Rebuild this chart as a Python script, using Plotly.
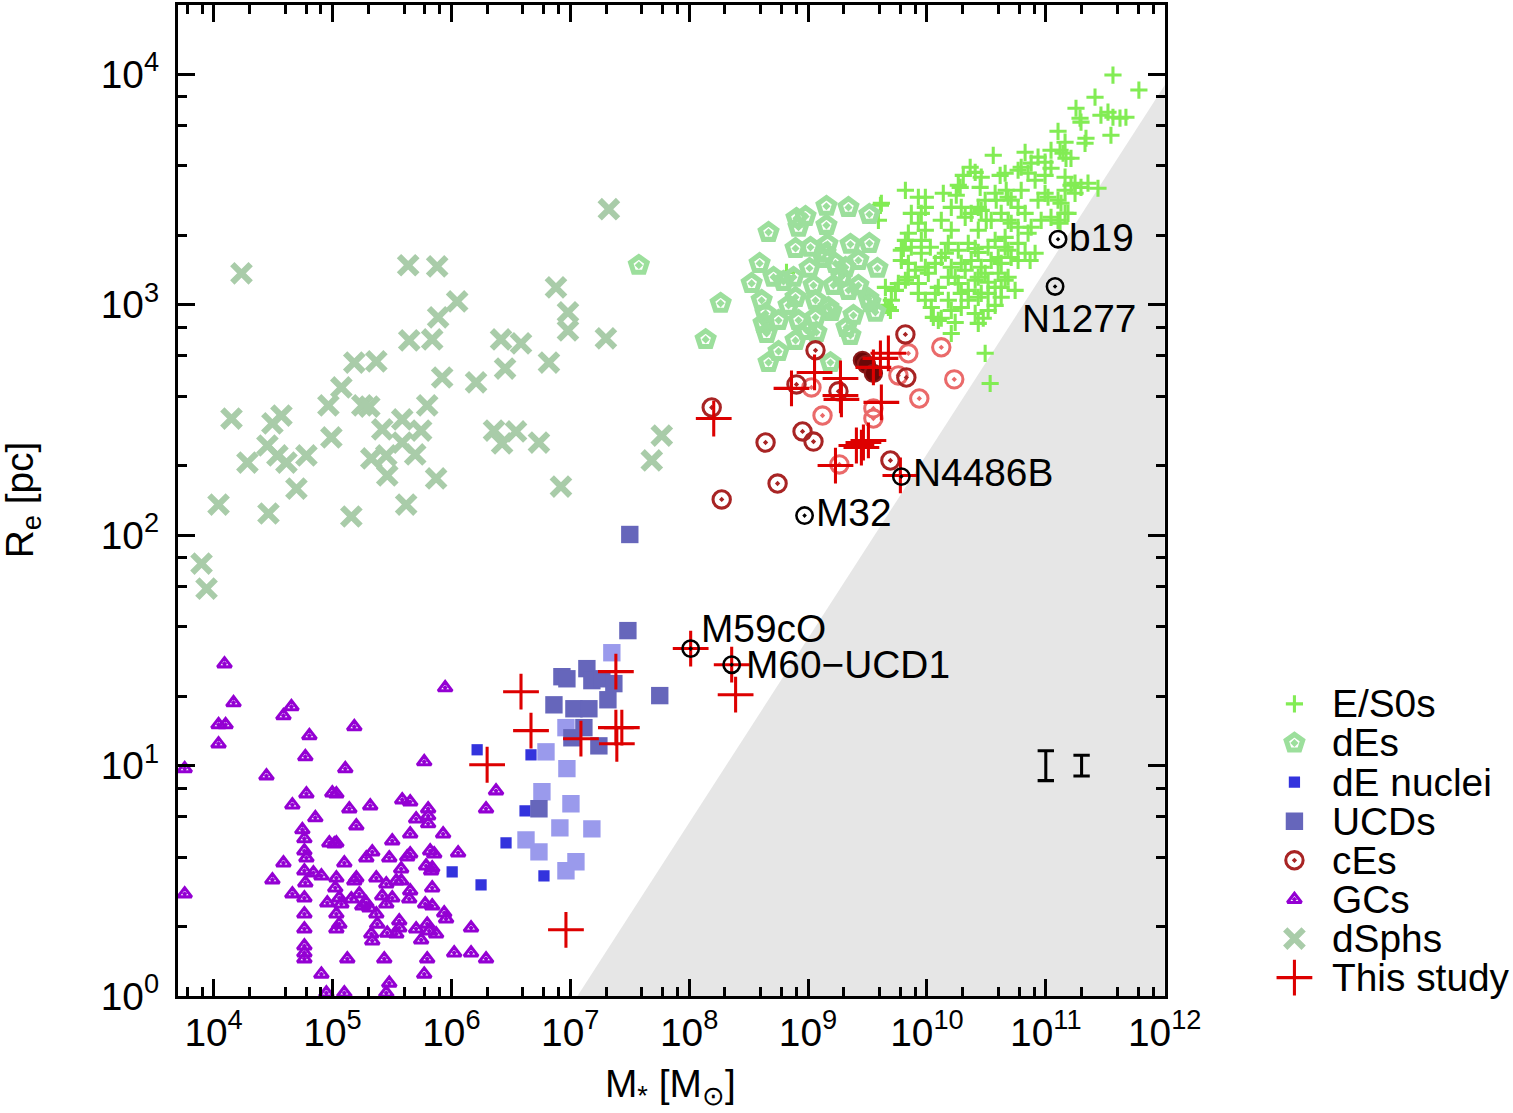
import math
import numpy as np
import plotly.graph_objects as go

# ---------------- data: (log10 M*/Msun, log10 Re/pc) ----------------
es0 = [
    (11.565, 3.996), (11.783, 3.931), (11.414, 3.900), (11.254, 3.852), (11.288, 3.809), (11.296, 3.792),
    (11.464, 3.822), (11.523, 3.835), (11.565, 3.813), (11.624, 3.809), (11.674, 3.813), (11.548, 3.735),
    (11.103, 3.752), (11.162, 3.705), (11.330, 3.700), (11.338, 3.722), (11.120, 3.670), (11.170, 3.635),
    (11.212, 3.635), (11.145, 3.657),
    (10.558, 3.648), (10.826, 3.661), (10.935, 3.640), (11.044, 3.670), (10.994, 3.618), (11.439, 3.505),
    (11.212, 3.518), (11.246, 3.483),
    (10.793, 3.596), (10.851, 3.570), (10.910, 3.540), (10.994, 3.561), (11.044, 3.592), (10.658, 3.570),
    (10.767, 3.583), (10.877, 3.614), (11.162, 3.553), (11.246, 3.527), (11.296, 3.509), (11.355, 3.527),
    (10.364, 3.596), (10.406, 3.574), (10.457, 3.553), (10.306, 3.561), (10.264, 3.518), (10.138, 3.483),
    (10.616, 3.561), (10.667, 3.496), (10.709, 3.453), (10.583, 3.453),
    (11.103, 3.453), (11.162, 3.496), (11.162, 3.396), (11.103, 3.366), (10.767, 3.422), (10.826, 3.396),
    (10.935, 3.453), (10.994, 3.483), (10.574, 3.483), (10.683, 3.466), (10.793, 3.496), (11.019, 3.466),
    (11.128, 3.440), (11.187, 3.396), (11.120, 3.353), (11.044, 3.379),
    (10.683, 3.366), (10.767, 3.336), (10.851, 3.310), (10.658, 3.292), (10.448, 3.509), (10.490, 3.453),
    (10.432, 3.422), (10.280, 3.509), (10.247, 3.475), (10.205, 3.422), (9.987, 3.466), (9.819, 3.496),
    (9.928, 3.466), (9.987, 3.422), (9.869, 3.396), (9.617, 3.440), (9.953, 3.396),
    (9.592, 3.366), (9.928, 3.353), (9.987, 3.323), (10.121, 3.366), (10.205, 3.323), (10.322, 3.379),
    (10.373, 3.396), (10.432, 3.323), (10.499, 3.366), (10.289, 3.422), (10.457, 3.409), (10.541, 3.366),
    (10.625, 3.396), (10.709, 3.353), (10.877, 3.336), (10.961, 3.366),
    (9.819, 3.279), (9.802, 3.244), (9.869, 3.249), (9.953, 3.223), (10.029, 3.249), (10.180, 3.266),
    (10.264, 3.236), (10.348, 3.266), (10.406, 3.244), (10.515, 3.249), (10.574, 3.279), (10.658, 3.249),
    (10.767, 3.266), (10.826, 3.223), (10.910, 3.223), (10.868, 3.192), (9.844, 3.310), (9.953, 3.279),
    (10.155, 3.223), (10.432, 3.227), (10.600, 3.205), (10.683, 3.236), (10.767, 3.192),
    (9.844, 3.179), (9.903, 3.149), (9.987, 3.162), (10.071, 3.179), (10.121, 3.205), (10.205, 3.162),
    (10.289, 3.179), (10.373, 3.192), (10.457, 3.162), (10.541, 3.192), (10.625, 3.179), (10.709, 3.205),
    (9.785, 3.192), (10.012, 3.136), (10.238, 3.119), (10.322, 3.149), (10.406, 3.106), (10.490, 3.136),
    (10.574, 3.075), (10.658, 3.106), (10.742, 3.062),
    (9.844, 3.119), (9.928, 3.092), (10.096, 3.075), (10.180, 3.119), (10.264, 3.092), (10.348, 3.062),
    (10.432, 3.119), (10.515, 3.097), (10.600, 3.136), (10.683, 3.119), (9.651, 3.075), (9.760, 3.092),
    (9.701, 3.019), (9.676, 2.988), (9.819, 3.106), (10.071, 3.049), (10.289, 3.049), (10.457, 3.049),
    (10.625, 3.032),
    (9.928, 3.049), (9.987, 3.019), (10.180, 3.019), (10.348, 3.019), (10.432, 3.032), (10.515, 3.049),
    (10.625, 3.075), (10.205, 2.975), (10.289, 2.988), (10.406, 2.962), (10.515, 2.975), (10.574, 2.997),
    (10.037, 2.988), (10.054, 2.945), (10.096, 2.932),
    (10.205, 2.875), (10.490, 2.789), (10.532, 2.658), (10.432, 2.919), (10.474, 2.941), (10.121, 2.941),
    (10.238, 2.923),
    (9.785, 3.236), (9.609, 3.431), (9.735, 3.062), (9.651, 2.997), (9.693, 2.975), (8.819, 3.140),
]

des = [
    (9.155, 3.427), (9.340, 3.422), (9.516, 3.392), (8.903, 3.375), (8.979, 3.383), (8.920, 3.336),
    (9.155, 3.344), (8.668, 3.314), (8.895, 3.244), (9.021, 3.249), (9.164, 3.262), (9.357, 3.262),
    (9.516, 3.266), (8.593, 3.179), (9.584, 3.158), (8.526, 3.092), (8.710, 3.119), (8.794, 3.101),
    (8.878, 3.119), (8.265, 3.006), (8.139, 2.849), (8.668, 2.749), (8.752, 2.797), (9.525, 3.010),
    (9.567, 2.967), (9.323, 2.901), (9.357, 2.867), (9.197, 2.971), (8.895, 3.032), (9.063, 3.019),
    (9.172, 2.988), (9.340, 3.062), (9.508, 3.027), (8.610, 3.019), (8.643, 2.962), (8.626, 2.919),
    (8.652, 2.875), (8.752, 2.932), (8.920, 2.932), (8.987, 2.888), (8.895, 2.845), (9.063, 2.945),
    (9.071, 2.880), (9.130, 3.201), (9.231, 3.179), (9.315, 3.162), (9.424, 3.192), (9.281, 3.119),
    (9.424, 3.084), (9.189, 2.749), (7.577, 3.171), (9.147, 3.223), (9.046, 3.084), (9.214, 3.084),
    (8.836, 2.997), (9.382, 2.954), (9.013, 3.158),
]

de_nuclei = [
    (6.217, 1.069), (6.670, 1.047), (6.620, 0.804), (6.460, 0.665), (6.779, 0.522), (6.007, 0.539),
    (6.250, 0.483),
]

ucds = [
    (7.501, 2.003), (7.485, 1.586), (7.753, 1.304), (6.930, 1.386), (6.972, 1.377), (7.140, 1.421),
    (7.182, 1.369), (7.266, 1.377), (7.367, 1.356), (7.317, 1.286), (6.863, 1.264), (7.031, 1.247),
    (7.157, 1.247), (7.115, 1.165), (7.014, 1.121), (7.241, 1.086), (6.737, 0.813),
]

ucds_light = [
    (7.350, 1.490), (6.964, 1.165), (6.796, 1.060), (6.972, 0.987), (6.762, 0.887), (7.006, 0.835),
    (6.913, 0.730), (7.182, 0.726), (6.628, 0.678), (6.737, 0.626), (7.048, 0.583), (6.964, 0.544),
]

ces = [
    (8.190, 2.554), (9.063, 2.802), (8.903, 2.654), (9.256, 2.624), (9.819, 2.871), (9.827, 2.684),
    (8.954, 2.450), (9.046, 2.406), (8.643, 2.402), (9.693, 2.324), (8.744, 2.224), (8.274, 2.155),
]
ces_light = [
    (10.121, 2.815), (10.230, 2.676), (9.844, 2.789), (9.760, 2.693), (9.936, 2.593), (9.550, 2.550),
    (9.550, 2.506), (9.122, 2.519), (9.029, 2.641), (9.264, 2.307),
]
ces_core = [(9.458, 2.758), (9.491, 2.741), (9.550, 2.702)]

gcs = [
    (4.092, 1.442), (4.168, 1.273), (4.042, 1.178), (4.101, 1.178), (4.042, 1.095), (3.757, 0.987),
    (3.757, 0.444), (4.655, 1.256), (4.588, 1.217), (4.806, 1.130), (4.772, 1.039), (4.445, 0.956),
    (5.184, 1.169), (5.108, 0.987), (5.772, 1.017), (5.948, 1.338), (6.376, 0.891), (6.292, 0.813),
    (4.781, 0.878), (4.663, 0.830), (4.999, 0.882), (5.033, 0.878), (4.856, 0.774), (5.142, 0.813),
    (5.318, 0.826), (5.201, 0.739), (5.587, 0.852), (5.654, 0.843), (5.805, 0.813), (5.805, 0.782),
    (5.805, 0.748), (5.704, 0.769), (5.654, 0.704), (5.931, 0.704), (6.057, 0.622), (4.747, 0.722),
    (4.764, 0.683), (4.764, 0.630), (4.781, 0.600), (4.974, 0.665), (5.033, 0.665), (5.016, 0.661),
    (4.588, 0.578), (4.495, 0.505), (4.764, 0.544), (4.840, 0.535), (4.907, 0.522), (4.772, 0.492),
    (4.663, 0.444), (4.764, 0.426), (4.764, 0.357), (4.764, 0.292), (4.764, 0.218), (4.764, 0.188),
    (4.764, 0.162), (5.100, 0.578), (5.285, 0.600), (5.335, 0.626), (5.503, 0.674), (5.478, 0.600),
    (5.654, 0.617), (5.629, 0.604), (5.822, 0.630), (5.856, 0.617), (5.578, 0.552), (5.788, 0.565),
    (5.839, 0.557), (5.830, 0.544), (5.033, 0.513), (5.024, 0.470), (5.058, 0.426), (5.075, 0.400),
    (5.201, 0.513), (5.184, 0.500), (5.226, 0.444), (5.159, 0.422), (5.369, 0.513), (5.453, 0.487),
    (5.537, 0.500), (5.579, 0.500), (5.839, 0.470), (4.957, 0.405), (5.285, 0.405), (5.310, 0.383),
    (5.251, 0.392), (5.419, 0.435), (5.453, 0.400), (5.503, 0.426), (5.654, 0.457), (5.646, 0.422),
    (5.780, 0.400), (5.839, 0.392), (5.940, 0.361), (5.956, 0.335), (5.033, 0.357), (5.058, 0.313),
    (5.033, 0.292), (5.369, 0.357), (5.377, 0.313), (5.327, 0.270), (5.335, 0.240), (5.461, 0.274),
    (5.537, 0.270), (5.562, 0.327), (5.562, 0.296), (5.704, 0.292), (5.797, 0.313), (5.814, 0.283),
    (5.872, 0.270), (5.746, 0.244), (6.166, 0.296), (6.024, 0.188), (6.166, 0.188), (6.292, 0.162),
    (5.125, 0.162), (5.436, 0.162), (5.797, 0.162), (4.907, 0.096), (5.478, 0.057), (5.772, 0.096),
    (4.949, 0.014), (5.100, 0.014), (5.453, 0.014),
]

dsphs = [
    (4.235, 3.136), (5.637, 3.171), (5.881, 3.166), (7.325, 3.414), (6.880, 3.075), (6.049, 3.014),
    (5.889, 2.945), (6.981, 2.967), (6.981, 2.888), (5.646, 2.845), (5.839, 2.849), (6.418, 2.849),
    (6.586, 2.832), (7.300, 2.854), (5.184, 2.749), (5.369, 2.754), (6.821, 2.749), (5.923, 2.684),
    (6.208, 2.663), (6.452, 2.723), (5.075, 2.641), (4.966, 2.563), (5.251, 2.563), (5.310, 2.558),
    (5.797, 2.563), (4.151, 2.506), (4.495, 2.485), (4.571, 2.519), (5.419, 2.459), (5.587, 2.502),
    (5.746, 2.454), (4.991, 2.424), (6.359, 2.454), (6.544, 2.450), (6.427, 2.398), (6.737, 2.402),
    (7.770, 2.432), (7.686, 2.324), (4.453, 2.389), (4.285, 2.315), (4.537, 2.346), (4.613, 2.315),
    (4.781, 2.346), (5.327, 2.333), (5.453, 2.346), (5.587, 2.402), (5.696, 2.350), (5.461, 2.259),
    (5.872, 2.246), (4.697, 2.202), (4.042, 2.133), (4.462, 2.094), (5.159, 2.081), (5.620, 2.133),
    (6.922, 2.211), (3.899, 1.877), (3.941, 1.768),
]

this_study = [
    (6.301, 1.004), (6.586, 1.321), (6.670, 1.152), (7.090, 1.117), (7.384, 1.408), (7.384, 1.165),
    (7.434, 1.165), (7.392, 1.095), (6.964, 0.288), (8.013, 1.508), (8.358, 1.438), (8.391, 1.308),
    (8.207, 2.506), (8.861, 2.637), (9.055, 2.706), (9.273, 2.680), (9.273, 2.606), (9.281, 2.589),
    (9.550, 2.728), (9.676, 2.789), (9.609, 2.767), (9.617, 2.576), (9.466, 2.402), (9.508, 2.411),
    (9.449, 2.380), (9.407, 2.389), (9.231, 2.302), (9.777, 2.259),
]

named_names = ["b19", "N1277", "N4486B", "M32", "M59cO", "M60\u2212UCD1"]
named_logm = [11.103, 11.078, 9.785, 8.971, 8.013, 8.358]
named_logre = [3.284, 3.079, 2.254, 2.085, 1.508, 1.438]

# typical uncertainties (shown at Re = 10 pc)
err_mass = [1e11, 2e11]
err_re = [10.0, 10.0]
err_dex = [0.065, 0.045]

# forbidden zone boundary: log Re = slope * (log M - logm0)
zone_slope = 0.8
zone_logm0 = 7.06

x_ticks = [10.0 ** k for k in range(4, 13)]
x_ticktext = ["10<sup>%d</sup>" % k for k in range(4, 13)]
y_ticks = [10.0 ** k for k in range(0, 5)]
y_ticktext = ["10<sup>%d</sup>" % k for k in range(0, 5)]
x_minor = [m * 10.0 ** k for k in range(3, 12) for m in (2, 4, 6, 8)]
y_minor = [m * 10.0 ** k for k in range(0, 5) for m in (2, 4, 6, 8)]

# ---------------- styles ----------------
REF_W, REF_H = 1513, 1113          # layout designed in these pixel units
K = 1547 / 1513                    # rendering compensation factor
W, H = round(REF_W * K), round(REF_H * K)


def px(v):
    return v * K


FONT = "Liberation Sans, Arial, Helvetica, sans-serif"
C_ES0 = "#82ec54"
C_DE = "#9cdf9c"
C_NUC = "#3333dd"
C_UCD = "#6666bb"
C_UCD_L = "#9a9aec"
C_CE = "#a82424"
C_CE_L = "#ea6a6a"
C_CE_CORE = "#6a0808"
C_GC = "#9400d3"
C_DSPH = "#a9cca9"
C_THIS = "#dd0000"

STY = {
    "es0": ("cross-thin-open", 12, C_ES0, 3),
    "des": ("pentagon-open-dot", 17, C_DE, 5),
    "nuc": ("square", 11, C_NUC, 0),
    "ucd": ("square", 17, C_UCD, 0),
    "ucdl": ("square", 17, C_UCD_L, 0),
    "ce": ("circle-open-dot", 17, C_CE, 3),
    "cel": ("circle-open-dot", 17, C_CE_L, 3),
    "gc": ("triangle-up-open-dot", 12, C_GC, 3),
    "dsph": ("x-thin-open", 18, C_DSPH, 6),
    "this": ("cross-thin-open", 25, C_THIS, 3),
}


def lin(pairs):
    a = np.array(pairs, dtype=float)
    return np.power(10.0, a[:, 0]), np.power(10.0, a[:, 1])


fig = go.Figure()

# grey forbidden region
zl = np.array([zone_logm0 - 2.0, 13.0])
zx = np.power(10.0, np.concatenate([zl, [13.0]]))
zy = np.power(10.0, np.concatenate([zone_slope * (zl - zone_logm0), [-2.0]]))
fig.add_trace(go.Scatter(x=zx, y=zy, fill="toself", fillcolor="#e6e6e6", mode="lines",
                         line=dict(width=0, color="#e6e6e6"), hoverinfo="skip", showlegend=False))


def marker(key):
    sym, sz, col, lw = STY[key]
    return dict(symbol=sym, size=px(sz), color=col, line=dict(width=px(lw), color=col))


def add(pairs, key):
    x, y = lin(pairs)
    fig.add_trace(go.Scatter(x=x, y=y, mode="markers", showlegend=False, marker=marker(key)))


add(es0, "es0")
add(des, "des")
add(de_nuclei, "nuc")
add(ucds_light, "ucdl")
add(ucds, "ucd")
add(ces_light, "cel")
add(ces, "ce")
cx, cy = lin(ces_core)
fig.add_trace(go.Scatter(x=cx, y=cy, mode="markers", showlegend=False,
                         marker=dict(symbol="circle", size=px(17), color=C_CE_CORE,
                                     line=dict(width=px(2), color="#8a1a1a"))))
add(gcs, "gc")
add(dsphs, "dsph")
add(this_study, "this")

# named objects
fig.add_trace(go.Scatter(
    x=np.power(10.0, named_logm), y=np.power(10.0, named_logre), mode="markers", showlegend=False,
    marker=dict(symbol="circle-open-dot", size=px(16), color="black",
                line=dict(width=px(2.5), color="black"))))

# error bars
ed = np.array(err_dex)
ey = np.array(err_re)
fig.add_trace(go.Scatter(
    x=err_mass, y=err_re, mode="markers", showlegend=False,
    marker=dict(size=1, color="rgba(0,0,0,0)"),
    error_y=dict(type="data", symmetric=False, array=ey * (10 ** ed - 1), arrayminus=ey * (1 - 10 ** -ed),
                 color="black", thickness=px(3), width=px(8))))

# labels of named objects
label_style = {
    "b19": dict(xanchor="left", yanchor="middle", xshift=9, yshift=2),
    "N1277": dict(xanchor="center", yanchor="middle", xshift=23, yshift=-31),
    "N4486B": dict(xanchor="left", yanchor="middle", xshift=9, yshift=4),
    "M32": dict(xanchor="left", yanchor="middle", xshift=9, yshift=3),
    "M59cO": dict(xanchor="left", yanchor="middle", xshift=8, yshift=20),
    "M60\u2212UCD1": dict(xanchor="left", yanchor="middle", xshift=12, yshift=0),
}
annotations = []
for n, lm, lr in zip(named_names, named_logm, named_logre):
    st = label_style[n]
    annotations.append(dict(x=lm, y=lr, xref="x", yref="y", text=n, showarrow=False,
                            xanchor=st["xanchor"], yanchor=st["yanchor"],
                            xshift=px(st["xshift"]), yshift=px(st["yshift"]),
                            font=dict(family=FONT, size=px(38), color="black")))

# axis titles
annotations.append(dict(x=672 / REF_W, y=1 - 1084 / REF_H, xref="paper", yref="paper",
                        text="M<sub>*</sub> [M<sub>\u2299</sub>]", showarrow=False,
                        font=dict(family=FONT, size=px(38), color="black"), xanchor="center", yanchor="middle"))
annotations.append(dict(x=22 / REF_W, y=1 - 498 / REF_H, xref="paper", yref="paper",
                        text="R<sub>e</sub> [pc]", showarrow=False, textangle=-90,
                        font=dict(family=FONT, size=px(38), color="black"), xanchor="center", yanchor="middle"))

# custom legend (on a hidden overlay axis)
legend_items = [("E/S0s", "es0"), ("dEs", "des"), ("dE nuclei", "nuc"), ("UCDs", "ucd"),
                ("cEs", "ce"), ("GCs", "gc"), ("dSphs", "dsph"), ("This study", "this")]
for i, (name, key) in enumerate(legend_items):
    fig.add_trace(go.Scatter(x=[27], y=[i], xaxis="x3", yaxis="y3", mode="markers", showlegend=False,
                             marker=marker(key)))
    annotations.append(dict(x=63, y=i, xref="x3", yref="y3", text=name, showarrow=False,
                            xanchor="left", yanchor="middle",
                            font=dict(family=FONT, size=px(38), color="black")))

axis_common = dict(
    type="log", showline=True, linecolor="black", linewidth=px(2.5), mirror="allticks",
    ticks="inside", ticklen=px(17), tickwidth=px(2.5), tickcolor="black",
    showgrid=False, zeroline=False, tickfont=dict(family=FONT, size=px(38), color="black"),
    tickmode="array",
)
minor_common = dict(ticks="inside", ticklen=px(9), tickwidth=px(2.5), tickcolor="black")

fig.update_layout(
    width=W, height=H,
    margin=dict(l=0, r=0, t=0, b=0),
    paper_bgcolor="white", plot_bgcolor="white",
    showlegend=False,
    xaxis=dict(axis_common, range=[3.698, 12.0], domain=[178 / REF_W, 1167 / REF_W], anchor="y",
               tickvals=x_ticks, ticktext=x_ticktext, minor=dict(minor_common, tickvals=x_minor)),
    yaxis=dict(axis_common, range=[0.0, 4.30], domain=[1 - 993.5 / REF_H, 1 - 5 / REF_H], anchor="x",
               tickvals=y_ticks, ticktext=y_ticktext, ticklabelstandoff=int(round(px(8))),
               minor=dict(minor_common, tickvals=y_minor)),
    xaxis3=dict(domain=[1270 / REF_W, 1.0], range=[0, 243], visible=False, anchor="y3", fixedrange=True),
    yaxis3=dict(domain=[1 - 994.5 / REF_H, 1 - 682.5 / REF_H], range=[7.5, -0.5], visible=False,
                anchor="x3", fixedrange=True),
    annotations=annotations,
    font=dict(family=FONT, color="black"),
)

fig.write_html(
    "out.html",
    config={"displayModeBar": False},
    post_script="document.body.style.margin='0px';document.body.style.overflow='hidden';"
                "document.documentElement.style.overflow='hidden';",
)
